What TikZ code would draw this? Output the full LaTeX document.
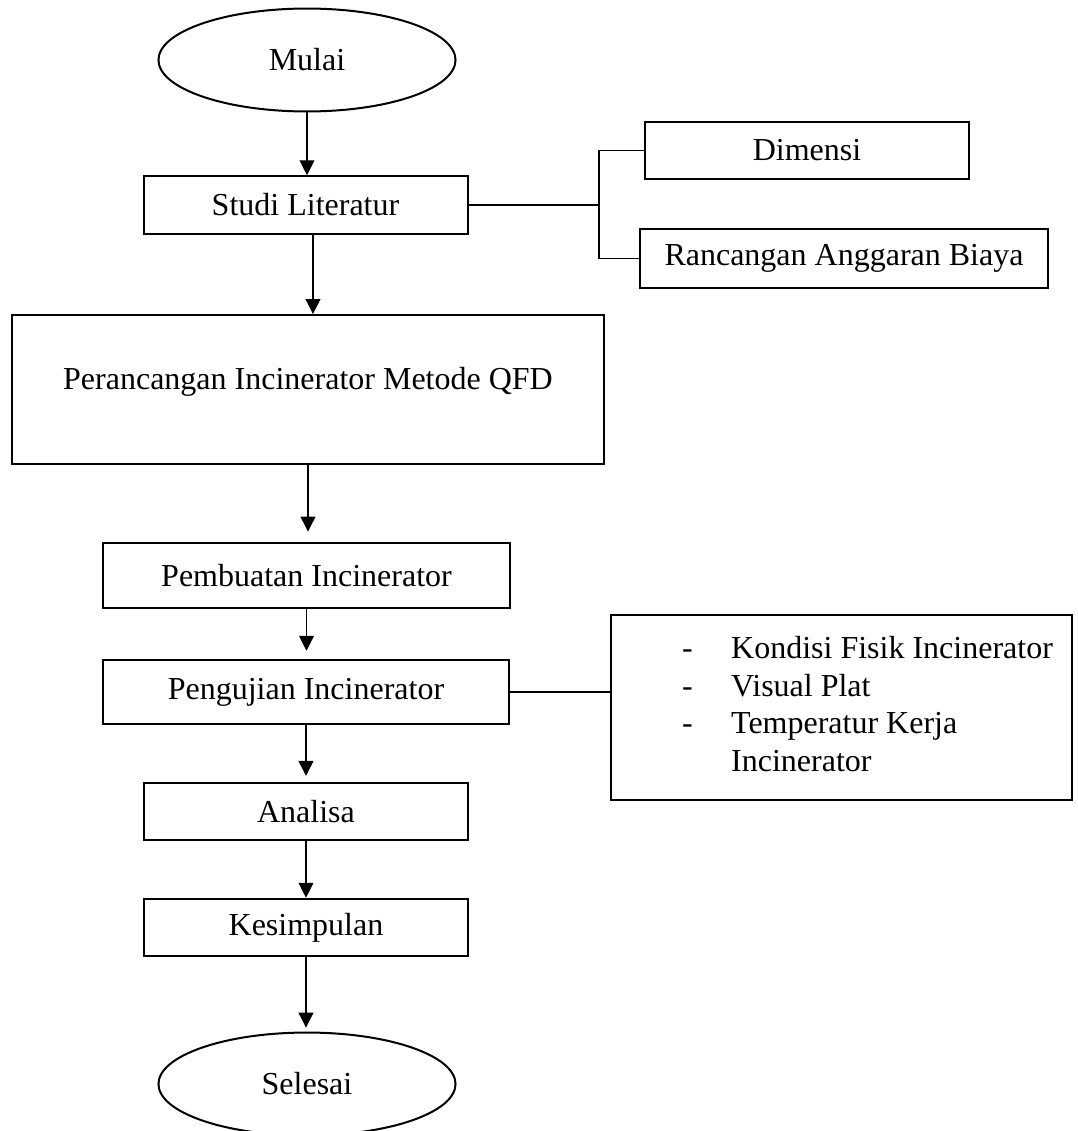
\documentclass[tikz,border=0pt]{standalone}
\usepackage{fontspec}
\setmainfont{Liberation Serif}
\usepackage{tikz}
\usetikzlibrary{shapes.geometric, arrows.meta, positioning}
\tikzset{
  >=Triangle,
  flowarrow/.style={-{Triangle[length=5.6pt, width=5.6pt]}, line width=0.4pt, black},
  linkline/.style={line width=0.4pt, black}
}

\begin{document}
\begin{tikzpicture}[x=0.375pt, y=-0.375pt,
    termbox/.style={ellipse, draw, line width=0.75pt, inner sep=0pt, minimum width=111.4pt, minimum height=38.6pt, font=\fontsize{12pt}{14.06pt}\selectfont},
    procbox/.style={rectangle, draw, line width=0.75pt, inner sep=0pt, minimum width=121.5pt, minimum height=21.6pt, font=\fontsize{12pt}{14.06pt}\selectfont, align=center},
    widebox/.style={procbox, minimum width=152.5pt, minimum height=24.2pt},
    listbox/.style={procbox, minimum width=172.9pt, minimum height=69.4pt}
]
    % page frame, 1077 x 1131
    \useasboundingbox (0,0) rectangle (1077,1131);

    % Main flow
    \node[termbox] (mulai) at (307,60) {Mulai};
    \node[procbox] (studi) at (305.5,205) {Studi Literatur};
    \node[procbox, minimum width=222pt, minimum height=55.9pt, text depth=8pt] (perancangan) at (308,389.5) {Perancangan Incinerator Metode QFD};
    \node[widebox] (pembuatan) at (306.5,575.5) {Pembuatan Incinerator};
    \node[widebox] (pengujian) at (306,692) {Pengujian Incinerator};
    \node[procbox] (analisa) at (306,811.5) {Analisa};
    \node[procbox] (kesimpulan) at (306,927.5) {Kesimpulan};
    \node[termbox] (selesai) at (307,1084) {Selesai};

    % Side boxes
    \node[procbox] (dimensi) at (807,150.5) {Dimensi};
    \node[widebox, minimum width=153pt, minimum height=22.1pt] (rab) at (844,258.5) {Rancangan Anggaran Biaya};
    \node[listbox] (parameter) at (841.5,707.5) {\begin{tabular}{@{\hspace{19.5pt}}p{18.4pt}@{}l@{}}
        - & Kondisi Fisik Incinerator\\
        - & Visual Plat\\
        - & Temperatur Kerja\\
          & Incinerator
    \end{tabular}};

    % Arrows down the flow
    \draw[flowarrow] (mulai.south) -- (mulai.south |- studi.north);
    \draw[flowarrow] ([xshift=2.8pt]studi.south) -- ([xshift=2.8pt]studi.south |- perancangan.north);
    \draw[flowarrow, shorten >=4pt] (perancangan.south) -- (perancangan.south |- pembuatan.north);
    \draw[flowarrow, shorten >=3pt] (pembuatan.south) -- (pembuatan.south |- pengujian.north);
    \draw[flowarrow, shorten >=2.2pt] (pengujian.south) -- (pengujian.south |- analisa.north);
    \draw[flowarrow] (analisa.south) -- (analisa.south |- kesimpulan.north);
    \draw[flowarrow, shorten >=1.5pt] (kesimpulan.south) -- (kesimpulan.south |- selesai.north);

    % Side links
    \coordinate (fork) at (599,205);
    \draw[linkline] (studi.east) -- (fork);
    \draw[linkline] (dimensi.west) -| (fork) |- (rab.west);
    \draw[linkline] (pengujian.east) -- (pengujian.east -| parameter.west);
\end{tikzpicture}
\end{document}
